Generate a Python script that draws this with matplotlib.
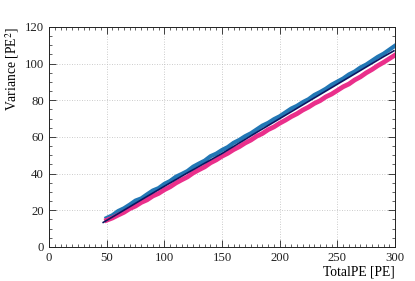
import numpy as np
import matplotlib
matplotlib.use("Agg")
import matplotlib.pyplot as plt
from matplotlib.ticker import MultipleLocator

plt.rcParams.update({"font.family": ["Liberation Serif", "DejaVu Serif"],
                     "mathtext.fontset": "stix", "font.size": 9.2})

# TotalPE grid (every 5 PE)
pe = list(range(50, 301, 5))

# variance, blue series
var_blue = [15.8, 17.3, 19.6, 21.1, 23.1, 25.3, 26.5, 28.7, 30.8, 32.1,
            34.4, 36.0, 38.3, 39.8, 41.4, 43.8, 45.5, 47.1, 49.5, 50.9,
            52.9, 54.5, 56.8, 58.4, 60.4, 62.0, 64.1, 66.2, 67.7, 69.7,
            71.3, 73.4, 75.5, 77.0, 79.0, 80.6, 82.9, 84.5, 86.3, 88.5,
            90.2, 91.9, 94.1, 95.7, 97.9, 99.5, 101.6, 103.7, 105.4, 107.6,
            109.8]

# variance, pink series
var_pink = [14.6, 15.8, 17.4, 18.9, 20.9, 22.3, 24.3, 25.7, 27.8, 29.2,
            31.2, 32.8, 34.9, 36.6, 38.2, 40.4, 42.1, 43.7, 45.9, 47.5,
            49.5, 51.1, 53.1, 54.7, 56.7, 58.3, 60.4, 61.9, 64.0, 65.5,
            67.5, 69.2, 71.1, 72.7, 74.7, 76.3, 78.3, 79.8, 81.9, 83.4,
            85.4, 87.4, 88.9, 91.1, 92.8, 95.0, 96.8, 98.9, 100.7, 102.7,
            104.7]

# fit curve
fit_x = [47, 60, 80, 100, 120, 150, 180, 200, 230, 250, 270, 290, 299]
fit_y = [13.4, 18.2, 25.7, 33.1, 40.4, 51.0, 62.5, 70.0, 81.3, 88.8, 96.3, 103.8, 107.0]

fig = plt.figure(figsize=(4.15, 2.81), dpi=100)
ax = fig.add_axes([0.118, 0.121, 0.834, 0.783])

ax.plot(pe, var_blue, color="#2277b5", lw=3.0)
ax.plot(pe, var_pink, color="#ea2f8b", lw=3.4)
ax.plot(fit_x, fit_y, color="#0b1660", lw=1.2)

ax.set_xlim(0, 300); ax.set_ylim(0, 120)
ax.xaxis.set_major_locator(MultipleLocator(50)); ax.xaxis.set_minor_locator(MultipleLocator(5))
ax.yaxis.set_major_locator(MultipleLocator(20)); ax.yaxis.set_minor_locator(MultipleLocator(5))
ax.tick_params(which="both", direction="in", top=True, right=True, colors="#222222",
               labelcolor="#222222")
ax.tick_params(which="major", length=5, width=0.6)
ax.tick_params(which="minor", length=2.5, width=0.5)
ax.grid(True, which="major", ls=(0, (1, 2)), color="#bbbbbb", lw=0.6)
for s in ax.spines.values():
    s.set_linewidth(0.7); s.set_color("#222222")

ax.set_xlabel("TotalPE [PE]", loc="right", labelpad=1, fontsize=9.8)
ax.set_ylabel("Variance [PE$^2$]", loc="top", labelpad=3, fontsize=9.8)

fig.savefig("out.png", dpi=100)
